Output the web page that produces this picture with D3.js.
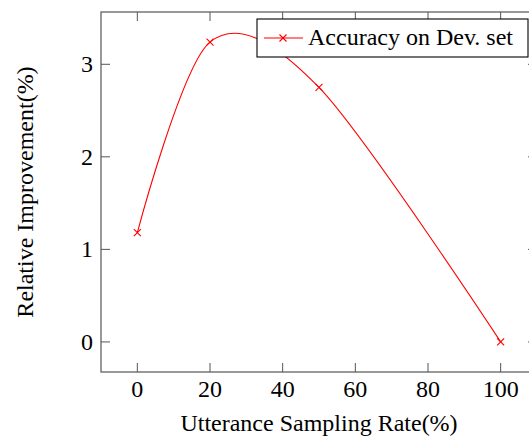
<!DOCTYPE html>
<html>
<head>
<meta charset="utf-8">
<script src="https://cdn.jsdelivr.net/npm/d3@7"></script>
<style>
  body { margin: 0; background: #fff; }
  text { font-family: "Liberation Serif", "DejaVu Serif", serif; }
</style>
</head>
<body>
<svg id="chart"></svg>
<script>
// data
var rates = [0, 20, 50, 100]
var improvement = [1.18, 3.24, 2.75, 0]
var xTicks = [0, 20, 40, 60, 80, 100]
var yTicks = [0, 1, 2, 3]
var seriesName = "Accuracy on Dev. set"

var dimensions = {
    width: 529,
    height: 436,
    margin: { top: 12, bottom: 64, left: 101, right: -8 }
}

var svg = d3.select("#chart")
    .attr("width", dimensions.width)
    .attr("height", dimensions.height)

var x0 = dimensions.margin.left
var x1 = dimensions.width - dimensions.margin.right
var y0 = dimensions.height - dimensions.margin.bottom
var y1 = dimensions.margin.top

// pgfplots style: enlarge limits by 10%
var xScale = d3.scaleLinear().domain([-10, 110]).range([x0, x1])
var yScale = d3.scaleLinear().domain([-0.325, 3.565]).range([y0, y1])

var axisColor = "#555"
var tickLen = 9
var fontSize = "24px"

// ticks (inside, on both sides)
svg.append("g").selectAll("line.xt")
    .data(xTicks).enter().append("line")
    .attr("x1", d => xScale(d)).attr("x2", d => xScale(d))
    .attr("y1", y0).attr("y2", y0 - tickLen)
    .attr("stroke", axisColor).attr("stroke-width", 1)
svg.append("g").selectAll("line.xt2")
    .data(xTicks).enter().append("line")
    .attr("x1", d => xScale(d)).attr("x2", d => xScale(d))
    .attr("y1", y1).attr("y2", y1 + tickLen)
    .attr("stroke", axisColor).attr("stroke-width", 1)
svg.append("g").selectAll("line.yt")
    .data(yTicks).enter().append("line")
    .attr("x1", x0).attr("x2", x0 + tickLen)
    .attr("y1", d => yScale(d)).attr("y2", d => yScale(d))
    .attr("stroke", axisColor).attr("stroke-width", 1)
svg.append("g").selectAll("line.yt2")
    .data(yTicks).enter().append("line")
    .attr("x1", x1).attr("x2", x1 - tickLen)
    .attr("y1", d => yScale(d)).attr("y2", d => yScale(d))
    .attr("stroke", axisColor).attr("stroke-width", 1)

// frame
svg.append("rect")
    .attr("x", x0).attr("y", y1)
    .attr("width", x1 - x0).attr("height", y0 - y1)
    .attr("fill", "none").attr("stroke", axisColor).attr("stroke-width", 1.2)

// tick labels
svg.append("g").selectAll("text")
    .data(xTicks).enter().append("text")
    .attr("x", d => xScale(d)).attr("y", y0 + 25)
    .attr("text-anchor", "middle")
    .style("font-size", fontSize)
    .text(d => d)
svg.append("g").selectAll("text")
    .data(yTicks).enter().append("text")
    .attr("x", x0 - 8).attr("y", d => yScale(d) + 8)
    .attr("text-anchor", "end")
    .style("font-size", fontSize)
    .text(d => d)

// axis titles
svg.append("text")
    .attr("x", (x0 + x1) / 2).attr("y", 431)
    .attr("text-anchor", "middle")
    .style("font-size", fontSize)
    .text("Utterance Sampling Rate(%)")
svg.append("text")
    .attr("transform", "translate(33," + ((y0 + y1) / 2) + ") rotate(-90)")
    .attr("text-anchor", "middle")
    .style("font-size", fontSize)
    .text("Relative Improvement(%)")

// series
var points = rates.map((r, i) => [r, improvement[i]])
var line = d3.line()
    .x(d => xScale(d[0]))
    .y(d => yScale(d[1]))
    .curve(d3.curveCardinal.tension(0.08))

svg.append("path")
    .datum(points)
    .attr("d", line)
    .attr("fill", "none")
    .attr("stroke", "red")
    .attr("stroke-width", 1.1)

var m = 3.5
function cross(g) {
    g.append("line").attr("x1", -m).attr("y1", -m).attr("x2", m).attr("y2", m)
    g.append("line").attr("x1", -m).attr("y1", m).attr("x2", m).attr("y2", -m)
}
svg.append("g").selectAll("g")
    .data(points).enter().append("g")
    .attr("transform", d => "translate(" + xScale(d[0]) + "," + yScale(d[1]) + ")")
    .attr("stroke", "red").attr("stroke-width", 1.1)
    .each(function () { cross(d3.select(this)) })

// legend
var legend = svg.append("g").attr("transform", "translate(257,19)")
legend.append("rect")
    .attr("width", 271).attr("height", 38)
    .attr("fill", "white").attr("stroke", "black").attr("stroke-width", 1.1)
legend.append("line")
    .attr("x1", 7).attr("x2", 46).attr("y1", 19).attr("y2", 19)
    .attr("stroke", "red").attr("stroke-width", 1.1)
var lg = legend.append("g").attr("transform", "translate(26,19)")
    .attr("stroke", "red").attr("stroke-width", 1.1)
cross(lg)
legend.append("text")
    .attr("x", 51).attr("y", 26)
    .style("font-size", fontSize)
    .text(seriesName)
</script>
</body>
</html>
